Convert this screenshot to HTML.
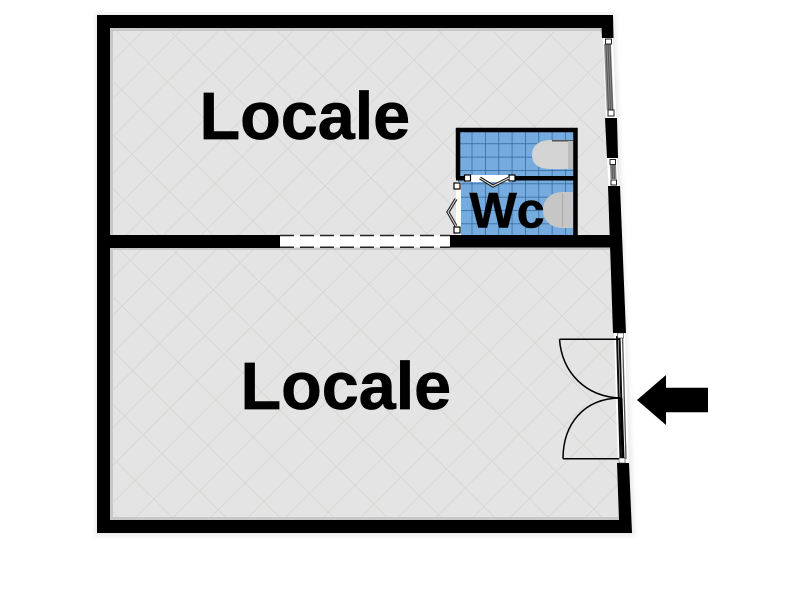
<!DOCTYPE html>
<html><head><meta charset="utf-8"><style>
html,body{margin:0;padding:0;background:#fff}
svg{display:block}
text{font-family:"Liberation Sans",Arial,sans-serif;font-weight:700;fill:#000;stroke:#000}
</style></head><body>
<svg width="800" height="600" viewBox="0 0 800 600" xmlns="http://www.w3.org/2000/svg">
<defs>
<pattern id="fl" width="38" height="26.500" patternUnits="userSpaceOnUse" patternTransform="translate(166.700 81.700) rotate(-45)">
<path d="M0 0H38M0 0V26.500" stroke="#d2d2ca" stroke-width="1.300" fill="none"/>
</pattern>
<pattern id="fl2" width="38" height="26.500" patternUnits="userSpaceOnUse" patternTransform="translate(186 316.700) rotate(-45)">
<path d="M0 0H38M0 0V26.500" stroke="#d2d2ca" stroke-width="1.300" fill="none"/>
</pattern>
<pattern id="tile" width="13.350" height="13.350" patternUnits="userSpaceOnUse" patternTransform="translate(458.300 130)">
<rect width="13.350" height="13.350" fill="#74abdf"/>
<path d="M0 0H13.350M0 0V13.350" stroke="#2f6494" stroke-width="1.400" fill="none"/>
</pattern>
<filter id="sh" x="-5%" y="-5%" width="110%" height="110%"><feGaussianBlur stdDeviation="2.500"/></filter>
<filter id="soft" x="0" y="0" width="800" height="600" filterUnits="userSpaceOnUse"><feGaussianBlur stdDeviation="0.350"/></filter>
</defs>
<rect width="800" height="600" fill="#fff"/>
<polygon points="95,13 615,13 635,536 95,536" fill="#ccc" opacity=".4" filter="url(#sh)"/>
<g filter="url(#soft)">
<polygon points="97,15 613,15 632,533 97,533" fill="#e4e4e4"/>
<polygon points="110,28 602,28 612,235 110,235" fill="url(#fl)"/>
<polygon points="110,248 612,248 620,520 110,520" fill="url(#fl2)"/>
<path d="M111.500 28V235M110 248.500H612M111.500 248V520M110 29.500H602M110 518.500H620" stroke="#c8c8c8" stroke-width="3" fill="none"/>

<!-- WC room -->
<rect x="458" y="130" width="118" height="105" fill="url(#tile)"/>
<path d="M573 140H552C538 140 532 146 532 155C532 164 538 169 552 169H573Z" fill="#d4d4d4"/>
<path d="M552 140H573V141.500H552Z" fill="#555"/>
<rect x="568" y="141" width="5" height="28" fill="#bdbdbd"/>
<path d="M573 192H563C550 192 543 200 543 210C543 220 550 228 563 228H573Z" fill="#c6c6c6"/>
<rect x="562" y="193" width="1" height="34" fill="#aaa"/>
<path d="M456 130H575.500V235" fill="none" stroke="#000" stroke-width="4.500"/>
<path d="M458 128V178" fill="none" stroke="#000" stroke-width="4.500"/>
<rect x="456" y="176" width="120" height="4.500" fill="#000"/>
<rect x="456" y="182" width="5" height="53" fill="#fff"/>
<rect x="466" y="175" width="46" height="7" fill="#fff"/>
<rect x="464.500" y="175" width="6" height="6" fill="#fff" stroke="#000" stroke-width="1.200"/>
<rect x="509" y="175" width="6" height="6" fill="#fff" stroke="#000" stroke-width="1.200"/>
<rect x="454" y="183" width="6" height="6" fill="#fff" stroke="#000" stroke-width="1.200"/>
<rect x="454" y="227" width="6" height="6" fill="#fff" stroke="#000" stroke-width="1.200"/>
<path d="M480 178L493 186L509 178" fill="none" stroke="#222" stroke-width="3.200"/>
<path d="M456 199L448 212L456 226" fill="none" stroke="#222" stroke-width="3.200"/>
<path d="M480 178L493 186L509 178" fill="none" stroke="#ddd" stroke-width="1"/>
<path d="M456 199L448 212L456 226" fill="none" stroke="#ddd" stroke-width="1"/>

<!-- walls -->
<rect x="97" y="15" width="13" height="518" fill="#000"/>
<rect x="97" y="15" width="516" height="13" fill="#000"/>
<polygon points="601,15 613,15 613.500,38 602,38" fill="#000"/>
<polygon points="605,118 617,118 618,158 607,158" fill="#000"/>
<polygon points="608,186 620,186 626,333 613,333" fill="#000"/>
<polygon points="617,463 629,463 632,533 97,533 97,520 619,520" fill="#000"/>
<rect x="97" y="235" width="183" height="13" fill="#000"/>
<rect x="450" y="235" width="166" height="12.500" fill="#000"/>

<!-- interior door -->
<rect x="280" y="235.500" width="170" height="12" fill="#fff"/>
<path d="M280 235.500H450M280 247.300H450" stroke="#222" stroke-width="1.500" stroke-dasharray="14 6" fill="none"/>

<!-- windows -->
<polygon points="603,38 613,38 616.500,118 606,118" fill="#fff"/>
<polygon points="604,44 611,44 613.500,110 606.700,110" fill="#8a8a8a"/>
<g stroke="#555" stroke-width="1" fill="none">
<path d="M606 44L608.500 110M608 44L610.500 110M610 44L612.500 110"/>
</g>
<rect x="605.500" y="39" width="6" height="5" fill="#fff" stroke="#222" stroke-width="1"/>
<rect x="608" y="110" width="6" height="6" fill="#fff" stroke="#222" stroke-width="1"/>
<polygon points="607,158 617,158 618.500,186 608.500,186" fill="#fff"/>
<polygon points="610,165 616,165 616.500,179 610.500,179" fill="#888"/>
<g stroke="#555" stroke-width="1" fill="none">
<path d="M612 165L612.500 179M614 165L614.500 179"/>
</g>
<rect x="610" y="159.500" width="5.500" height="5" fill="#fff" stroke="#222" stroke-width="1"/>
<rect x="611" y="180" width="5.500" height="5" fill="#fff" stroke="#222" stroke-width="1"/>

<!-- entrance door -->
<polygon points="614,333 625,333 629,463 618,463" fill="#fff"/>
<g fill="none">
<path d="M617 336L620.500 459M619.500 336L623 459" stroke="#111" stroke-width="2"/>
<path d="M622.500 336L626 459" stroke="#555" stroke-width="1.300"/>
<path d="M621 398L623 458" stroke="#000" stroke-width="3"/>
<path d="M559.500 339.300H620M559.500 339.300C562 372 585 397 621 398" stroke="#000" stroke-width="1.500"/>
<path d="M563 458.700H622M563 458.700C563 425 583 398 621 398" stroke="#000" stroke-width="1.500"/>
</g>
<rect x="617.500" y="333" width="6" height="5" fill="#fff" stroke="#333" stroke-width=".6"/>
<rect x="619" y="458" width="6" height="5" fill="#fff" stroke="#333" stroke-width=".6"/>

<!-- arrow -->
<polygon points="637,400 666,375 666,387.700 708,387.700 708,412.300 666,412.300 666,425" fill="#000"/>

<text x="199.500" y="139" font-size="66.500" stroke-width=".7">Locale</text>
<text x="240.500" y="409" font-size="66.500" stroke-width=".7">Locale</text>
<text x="469.500" y="227.500" font-size="50" stroke-width=".6">Wc</text>
</g>
</svg>
</body></html>
